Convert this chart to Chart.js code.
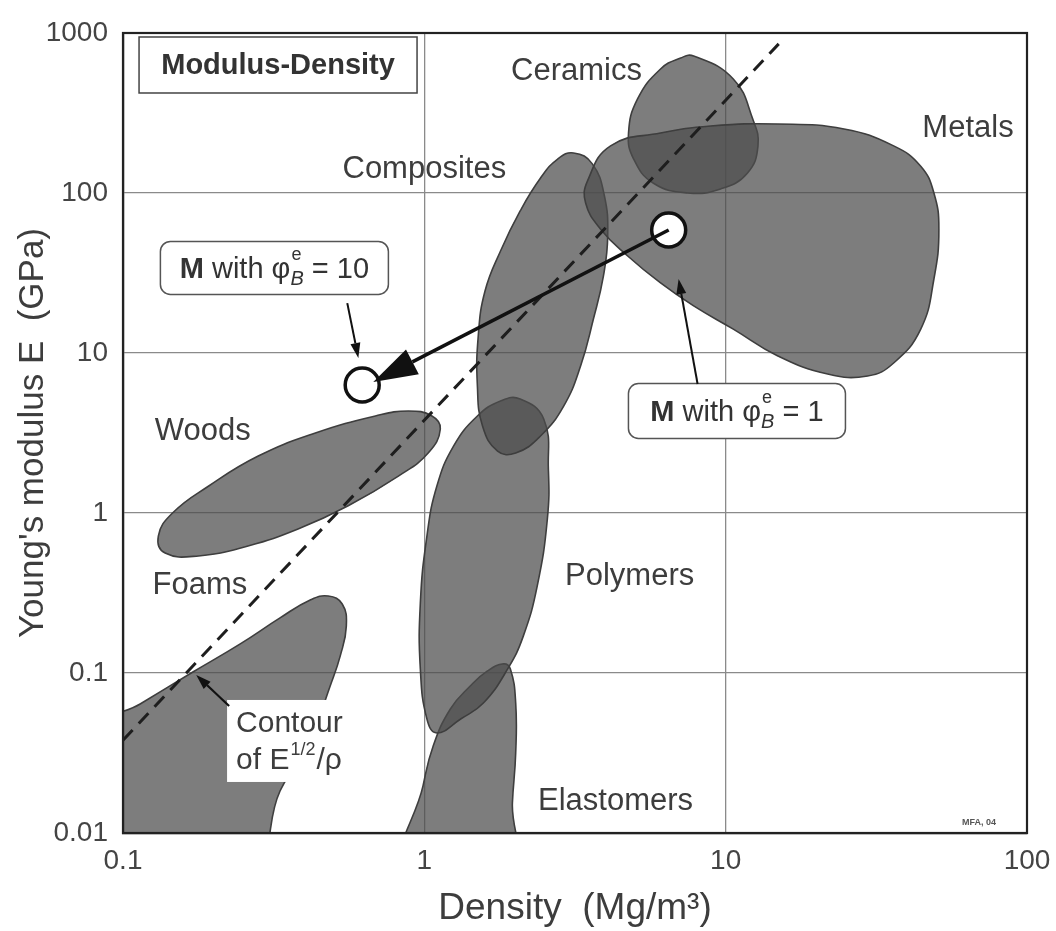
<!DOCTYPE html>
<html>
<head>
<meta charset="utf-8">
<script src="https://cdn.jsdelivr.net/npm/chart.js@4.4.0/dist/chart.umd.min.js"></script>
<style>
  body { margin: 0; background: #fff; }
</style>
</head>
<body>
<canvas id="grafico" width="1056" height="931"></canvas>
<script>
const FONT = "'Liberation Sans', Arial, sans-serif";
const TXT = '#3d3d3d';

const xTicks = [0.1, 1, 10, 100];
const xTickLabels = ['0.1', '1', '10', '100'];
const yTicks = [0.01, 0.1, 1, 10, 100, 1000];
const yTickLabels = ['0.01', '0.1', '1', '10', '100', '1000'];

// outlines of the material families (density Mg/m3, modulus GPa)
const ceramicsRho = [7.83, 10.6, 12.3, 12.8, 11.8, 9.62, 7.48, 5.76, 4.95, 4.76, 5.10, 6.08, 7.09];
const ceramicsE = [718, 516, 290, 197, 133, 106, 100, 115, 163, 237, 387, 596, 698];

const metalsRho = [3.48, 4.15, 6.08, 8.92, 14.9, 24.7, 36.1, 44.4, 49.1, 51.0, 49.1, 44.4, 36.1, 29.6, 21.8, 14.9, 10.6, 7.83, 6.08, 4.73, 3.84, 3.43];
const metalsE = [119, 197, 237, 262, 270, 251, 197, 147, 100, 59.6, 29.0, 14.1, 8.66, 7.18, 7.39, 9.58, 14.1, 19.7, 27.4, 40.4, 59.6, 86.6];

const compositesRho = [3.13, 3.61, 3.96, 4.06, 3.93, 3.64, 3.30, 2.90, 2.43, 2.01, 1.75, 1.56, 1.50, 1.51, 1.59, 1.79, 2.08, 2.43, 2.77];
const compositesE = [178, 152, 95.8, 53.8, 30.3, 16.3, 8.29, 4.66, 3.03, 2.37, 2.44, 3.50, 6.22, 12.8, 24.4, 43.4, 77.2, 124, 163];

const polymersRho = [2.08, 2.49, 2.58, 2.56, 2.37, 2.13, 1.89, 1.57, 1.32, 1.10, 1.02, 0.97, 0.97, 1.02, 1.10, 1.25, 1.50, 1.79];
const polymersE = [5.16, 3.87, 1.88, 0.917, 0.350, 0.170, 0.106, 0.0649, 0.0516, 0.0422, 0.0516, 0.106, 0.274, 0.718, 1.47, 2.62, 4.04, 5.01];

const elastomersRho = [1.83, 1.93, 2.01, 2.01, 1.96, 1.93, 0.87, 0.99, 1.07, 1.22, 1.42, 1.62];
const elastomersE = [0.114, 0.106, 0.0649, 0.0316, 0.0154, 0.006, 0.006, 0.0197, 0.035, 0.0596, 0.0829, 0.103];

const woodsRho = [1.13, 1.03, 0.820, 0.559, 0.381, 0.260, 0.178, 0.138, 0.131, 0.146, 0.192, 0.281, 0.435, 0.688, 0.885, 1.06];
const woodsE = [3.35, 2.37, 1.70, 1.11, 0.794, 0.622, 0.539, 0.562, 0.718, 1.0, 1.47, 2.27, 3.16, 4.04, 4.34, 4.04];

const foamsRho = [0.480, 0.534, 0.551, 0.526, 0.487, 0.435, 0.381, 0.332, 0.26, 0.08, 0.08, 0.114, 0.170, 0.245, 0.332, 0.418];
const foamsE = [0.303, 0.270, 0.197, 0.128, 0.0829, 0.0466, 0.0282, 0.0183, 0.006, 0.006, 0.0428, 0.064, 0.101, 0.152, 0.221, 0.286];

// guide line E^(1/2)/rho = const
const contourRho = [0.1, 15];
const contourE = [0.038, 855];

// material M before / after shaping
const markerRho = [6.47, 0.622];
const markerE = [58.7, 6.31];
const shiftFrom = [6.47, 58.7];
const shiftTo = [0.677, 6.59];

const familyNames = ['Ceramics', 'Metals', 'Composites', 'Woods', 'Foams', 'Polymers', 'Elastomers'];
const familyRho = [3.2, 63.7, 1.0, 0.184, 0.18, 4.8, 4.31];
const familyE = [579, 255, 141, 3.25, 0.35, 0.404, 0.0158];

const pts = (rs, es) => rs.map((r, i) => ({ x: r, y: es[i] }));

const blob = (rs, es) => ({
    data: pts(rs, es),
    fill: 'shape',
    backgroundColor: 'rgba(77,77,77,0.73)',
    borderColor: '#3e3e3e',
    borderWidth: 1.6,
    pointRadius: 0,
    tension: 0.45,
    capBezierPoints: false,
    clip: 0,
    order: 5,
    isBlob: true
});

// close the outlines as smooth loops
const closeShapes = {
    id: 'closeShapes',
    afterDatasetUpdate(chart, args) {
        if (chart.data.datasets[args.index].isBlob) {
            args.meta.dataset._loop = true;
            args.meta.dataset._fullLoop = true;
        }
    }
};

function arrow(ctx, x1, y1, x2, y2, lw, hl, hw) {
    const a = Math.atan2(y2 - y1, x2 - x1);
    const bx = x2 - hl * Math.cos(a), by = y2 - hl * Math.sin(a);
    ctx.lineWidth = lw;
    ctx.beginPath(); ctx.moveTo(x1, y1); ctx.lineTo(bx, by); ctx.stroke();
    ctx.beginPath();
    ctx.moveTo(x2, y2);
    ctx.lineTo(bx + hw * Math.sin(a), by - hw * Math.cos(a));
    ctx.lineTo(bx - hw * Math.sin(a), by + hw * Math.cos(a));
    ctx.closePath(); ctx.fill();
}

function phiLabel(ctx, cx, cy, val, fs) {
    const big = `${fs}px ${FONT}`, bold = `bold ${fs}px ${FONT}`;
    const small = `${Math.round(fs * 0.62)}px ${FONT}`, smallIt = `italic ${Math.round(fs * 0.7)}px ${FONT}`;
    ctx.font = bold; const wM = ctx.measureText('M').width;
    ctx.font = big; const wA = ctx.measureText(' with \u03c6').width;
    ctx.font = smallIt; const wS = ctx.measureText('B').width;
    ctx.font = big; const wB = ctx.measureText(' = ' + val).width;
    let xx = cx - (wM + wA + wS + wB) / 2;
    const base = cy + fs * 0.36;
    ctx.textAlign = 'left'; ctx.textBaseline = 'alphabetic';
    ctx.font = bold; ctx.fillText('M', xx, base); xx += wM;
    ctx.font = big; ctx.fillText(' with \u03c6', xx, base); xx += wA;
    ctx.font = small; ctx.fillText('e', xx + 1, base - fs * 0.62);
    ctx.font = smallIt; ctx.fillText('B', xx, base + fs * 0.22); xx += wS;
    ctx.font = big; ctx.fillText(' = ' + val, xx, base);
}

function roundBox(ctx, cx, cy, w, h, r) {
    ctx.beginPath();
    ctx.roundRect(cx - w / 2, cy - h / 2, w, h, r);
    ctx.fillStyle = '#fff'; ctx.fill();
    ctx.strokeStyle = '#555'; ctx.lineWidth = 1.5; ctx.stroke();
}

const annotations = {
    id: 'annotations',
    afterDatasetsDraw(chart) {
        const { ctx, chartArea: a, scales: { x, y } } = chart;
        const P = (r, e) => [x.getPixelForValue(r), y.getPixelForValue(e)];
        ctx.save();

        // frame
        ctx.strokeStyle = '#222'; ctx.lineWidth = 2.2;
        ctx.strokeRect(a.left, a.top, a.width, a.height);

        // white patch behind the contour note
        const [kx, ky] = P(0.353, 0.0376);
        ctx.fillStyle = '#fff';
        ctx.fillRect(kx - 61, ky - 41, 123, 82);

        // family names
        ctx.fillStyle = TXT;
        ctx.font = `31px ${FONT}`;
        ctx.textAlign = 'center'; ctx.textBaseline = 'middle';
        familyNames.forEach((n, i) => {
            const [tx, ty] = P(familyRho[i], familyE[i]);
            ctx.fillText(n, tx, ty);
        });

        // title box
        const [bx, by] = P(0.327, 631);
        ctx.strokeStyle = '#444'; ctx.lineWidth = 1.5;
        ctx.strokeRect(bx - 139, by - 28, 278, 56);
        ctx.font = `bold 29px ${FONT}`;
        ctx.fillStyle = '#333';
        ctx.fillText('Modulus-Density', bx, by + 1);

        // the two M boxes
        const [m1x, m1y] = P(0.318, 34.0);
        roundBox(ctx, m1x, m1y, 228, 53, 10);
        ctx.fillStyle = '#333';
        phiLabel(ctx, m1x, m1y, '10', 29);
        const [m2x, m2y] = P(10.9, 4.34);
        roundBox(ctx, m2x, m2y, 217, 55, 10);
        ctx.fillStyle = '#333';
        phiLabel(ctx, m2x, m2y, '1', 29);

        // contour note
        ctx.fillStyle = TXT;
        ctx.textAlign = 'left'; ctx.textBaseline = 'alphabetic';
        ctx.font = `30px ${FONT}`;
        const L = kx - 52;
        ctx.fillText('Contour', L, ky - 9);
        ctx.fillText('of E', L, ky + 28);
        let w = ctx.measureText('of E').width;
        ctx.font = `18px ${FONT}`;
        ctx.fillText('1/2', L + w + 1, ky + 14);
        w += ctx.measureText('1/2').width + 2;
        ctx.font = `30px ${FONT}`;
        ctx.fillText('/\u03c1', L + w, ky + 28);

        // arrows
        ctx.strokeStyle = '#111'; ctx.fillStyle = '#111';
        const [s1x, s1y] = P(shiftFrom[0], shiftFrom[1]);
        const [s2x, s2y] = P(shiftTo[0], shiftTo[1]);
        arrow(ctx, s1x, s1y, s2x, s2y, 3.5, 44, 14);
        let p1 = P(0.555, 20.5), p2 = P(0.604, 9.31);
        arrow(ctx, p1[0], p1[1], p2[0], p2[1], 2, 15, 5);
        p1 = P(8.07, 6.40); p2 = P(6.98, 29.0);
        arrow(ctx, p1[0], p1[1], p2[0], p2[1], 2, 15, 5);
        p1 = P(0.225, 0.0622); p2 = P(0.175, 0.0972);
        arrow(ctx, p1[0], p1[1], p2[0], p2[1], 2.2, 15, 5);

        // small credit
        const [fx, fy] = P(69.3, 0.0117);
        ctx.font = `bold 9px ${FONT}`;
        ctx.fillStyle = '#555'; ctx.textAlign = 'center';
        ctx.fillText('MFA, 04', fx, fy + 3);

        ctx.restore();
    }
};

new Chart('grafico', {
    type: 'line',
    data: {
        datasets: [
            { data: pts(markerRho, markerE), showLine: false, pointRadius: 17,
              pointBackgroundColor: '#fff', pointBorderColor: '#111', pointBorderWidth: 3.5, order: 1 },
            { data: pts(contourRho, contourE), borderColor: '#1e1e1e', borderWidth: 3,
              borderDash: [14, 9], pointRadius: 0, fill: false, clip: 0, order: 2 },
            blob(metalsRho, metalsE),
            blob(ceramicsRho, ceramicsE),
            blob(compositesRho, compositesE),
            blob(polymersRho, polymersE),
            blob(elastomersRho, elastomersE),
            blob(woodsRho, woodsE),
            blob(foamsRho, foamsE)
        ]
    },
    options: {
        responsive: false,
        animation: false,
        events: [],
        layout: { padding: { top: 33, right: 29, left: 0, bottom: 0 } },
        plugins: { legend: { display: false }, tooltip: { enabled: false } },
        scales: {
            x: {
                type: 'logarithmic', min: 0.1, max: 100,
                afterBuildTicks: s => { s.ticks = xTicks.map(v => ({ value: v })); },
                afterFit: s => { s.height = 98; s.paddingLeft = 0; s.paddingRight = 0; },
                ticks: { callback: (v, i) => xTickLabels[i], font: { size: 28, family: FONT }, color: '#444',
                         padding: 11, maxRotation: 0, autoSkip: false },
                grid: { color: '#8a8a8a', lineWidth: 1.3, drawTicks: false },
                border: { color: '#222', width: 2.2 },
                title: { display: true, text: 'Density  (Mg/m\u00b3)', font: { size: 37, family: FONT }, color: TXT,
                         padding: { top: 0, bottom: 0 } }
            },
            y: {
                type: 'logarithmic', min: 0.01, max: 1000,
                afterBuildTicks: s => { s.ticks = yTicks.map(v => ({ value: v })); },
                afterFit: s => { s.width = 123; s.paddingTop = 0; s.paddingBottom = 0; },
                ticks: { callback: (v, i) => yTickLabels[i], font: { size: 28, family: FONT }, color: '#444',
                         padding: 15, autoSkip: false },
                grid: { color: '#8a8a8a', lineWidth: 1.3, drawTicks: false },
                border: { color: '#222', width: 2.2 },
                title: { display: true, text: "Young's modulus E  (GPa)", font: { size: 35, family: FONT }, color: TXT,
                         padding: { top: 12, bottom: 0 } }
            }
        }
    },
    plugins: [closeShapes, annotations]
});
</script>
</body>
</html>
